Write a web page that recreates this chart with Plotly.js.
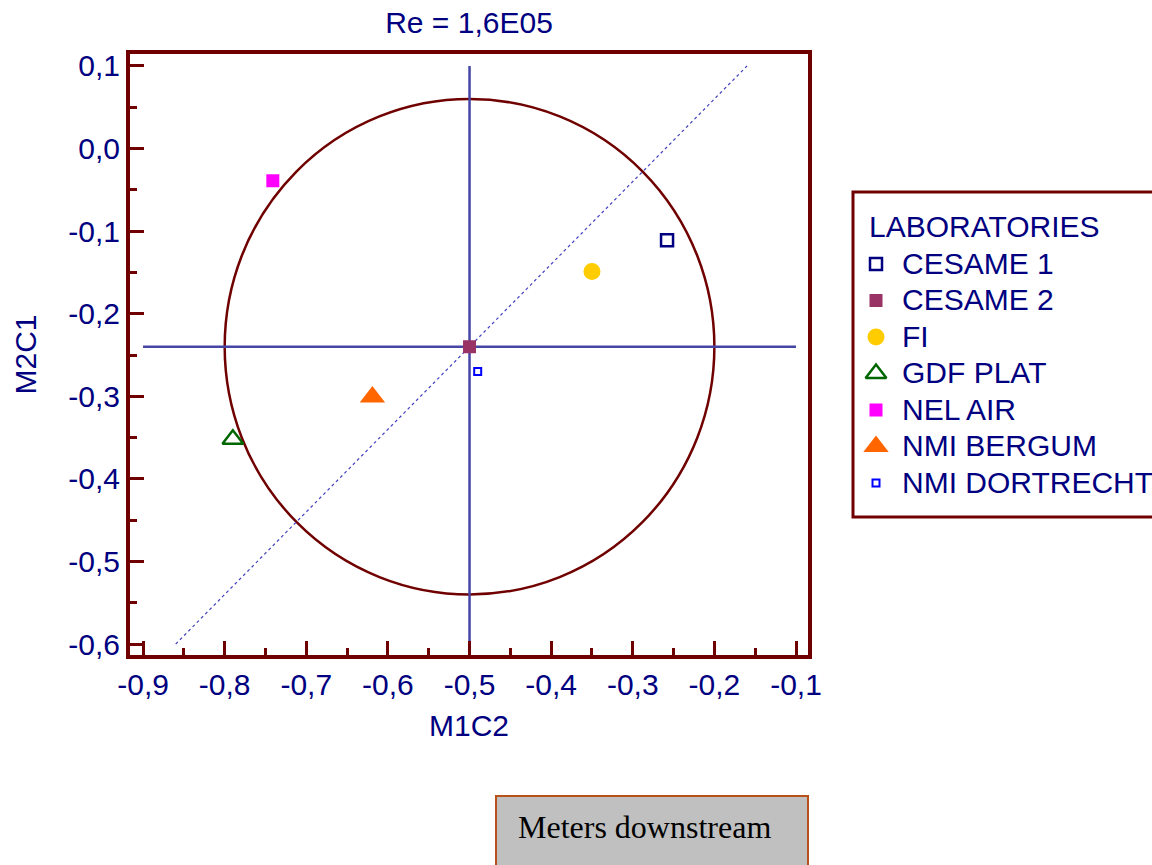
<!DOCTYPE html>
<html>
<head>
<meta charset="utf-8">
<script src="https://cdn.plot.ly/plotly-3.0.1.min.js"></script>
<style>html,body{margin:0;padding:0;background:#fff;}#chart{width:1152px;height:865px;}</style>
</head>
<body>
<div id="chart"></div>
<script>
// Data
const labs = ['CESAME 1', 'CESAME 2', 'FI', 'GDF PLAT', 'NEL AIR', 'NMI BERGUM', 'NMI DORTRECHT'];
const m1c2 = [-0.258, -0.500, -0.350, -0.790, -0.741, -0.619, -0.490];
const m2c1 = [-0.111, -0.240, -0.149, -0.352, -0.039, -0.301, -0.270];

const xTickVals = [-0.9, -0.8, -0.7, -0.6, -0.5, -0.4, -0.3, -0.2, -0.1];
const xTickText = ['-0,9', '-0,8', '-0,7', '-0,6', '-0,5', '-0,4', '-0,3', '-0,2', '-0,1'];
const yTickVals = [0.1, 0.0, -0.1, -0.2, -0.3, -0.4, -0.5, -0.6];
const yTickText = ['0,1', '0,0', '-0,1', '-0,2', '-0,3', '-0,4', '-0,5', '-0,6'];

// Reference geometry (values)
const centerX = -0.5, centerY = -0.24, radius = 0.3;
const hLineX = [-0.9, -0.1], hLineY = [-0.24, -0.24];
const vLineX = [-0.5, -0.5], vLineY = [-0.6, 0.1];
const diagX = [-0.86, -0.16], diagY = [-0.6, 0.1];

const markerStyles = [
  {symbol: 'square-open', size: 12, color: '#000080', line: {width: 2.5, color: '#000080'}},
  {symbol: 'square', size: 13, color: '#993366'},
  {symbol: 'circle', size: 17, color: '#ffcc00'},
  {symbol: 'triangle-up-open', size: 18, color: '#006600', line: {width: 2.5, color: '#006600'}},
  {symbol: 'square', size: 13, color: '#ff00ff'},
  {symbol: 'triangle-up', size: 22, color: '#ff6600'},
  {symbol: 'square-open', size: 7, color: '#0000ff', line: {width: 2, color: '#0000ff'}}
];

const W = 1152, H = 865;
const navy = '#000080';
const darkRed = '#700000';
const crossCol = '#4545a5';
const fontFam = 'Liberation Sans, Arial, sans-serif';

// plot box in pixels
const pL = 130, pR = 808, pT = 54, pB = 655;
// legend panel (pixel coords used by a hidden helper axis)
const lgL = 840, lgR = W, lgT = 180, lgB = 530;
const boxL = 853, boxT = 192, boxB = 517;
const symX = 876, txtX = 900, titleY = 226, firstY = 263, stepY = 36.5;

const traces = [
  {x: hLineX, y: hLineY, mode: 'lines', line: {color: crossCol, width: 2.5}, showlegend: false, hoverinfo: 'skip'},
  {x: vLineX, y: vLineY, mode: 'lines', line: {color: crossCol, width: 2.5}, showlegend: false, hoverinfo: 'skip'},
  {x: diagX, y: diagY, mode: 'lines', line: {color: '#4040c0', width: 1.2, dash: 'dot'}, showlegend: false, hoverinfo: 'skip'}
];
labs.forEach((name, i) => {
  traces.push({x: [m1c2[i]], y: [m2c1[i]], name: name, mode: 'markers', type: 'scatter', marker: markerStyles[i], showlegend: false});
});
// legend symbols on helper axes
labs.forEach((name, i) => {
  traces.push({x: [symX], y: [firstY + i * stepY + 1], name: name + ' (legend)', mode: 'markers', type: 'scatter',
    xaxis: 'x2', yaxis: 'y2', marker: markerStyles[i], showlegend: false, hoverinfo: 'skip', cliponaxis: false});
});

const annotations = [
  {text: 'Meters downstream', xref: 'paper', yref: 'paper', x: 516 / W, y: 1 - 827 / H, xanchor: 'left', yanchor: 'middle', showarrow: false, font: {family: 'Liberation Serif, Times New Roman, serif', size: 32, color: '#000000'}},
  {text: 'LABORATORIES', xref: 'x2', yref: 'y2', x: 867, y: titleY, xanchor: 'left', yanchor: 'middle', showarrow: false, font: {family: fontFam, size: 30, color: navy}}
];
labs.forEach((name, i) => {
  annotations.push({text: name, xref: 'x2', yref: 'y2', x: txtX, y: firstY + i * stepY, xanchor: 'left', yanchor: 'middle', showarrow: false, font: {family: fontFam, size: 30, color: navy}});
});

const layout = {
  width: W, height: H,
  margin: {l: 0, r: 0, t: 0, b: 0, autoexpand: false},
  paper_bgcolor: '#ffffff', plot_bgcolor: '#ffffff',
  font: {family: fontFam, size: 30, color: navy},
  title: {text: 'Re = 1,6E05', font: {family: fontFam, size: 30, color: navy}, x: (pL + pR) / 2 / W, xref: 'paper', xanchor: 'center', y: 1 - 22 / H, yref: 'container', yanchor: 'middle'},
  xaxis: {
    domain: [pL / W, pR / W], anchor: 'y',
    range: [-0.916, -0.0853], tickvals: xTickVals, ticktext: xTickText,
    showgrid: false, zeroline: false, showline: true, linecolor: darkRed, linewidth: 4, mirror: true,
    ticks: 'inside', ticklen: 14, tickwidth: 3, tickcolor: darkRed,
    minor: {dtick: 0.05, ticks: 'inside', ticklen: 7, tickwidth: 3, tickcolor: darkRed, showgrid: false},
    tickfont: {family: fontFam, size: 30, color: navy},
    title: {text: 'M1C2', font: {family: fontFam, size: 30, color: navy}, standoff: 16}
  },
  yaxis: {
    domain: [1 - pB / H, 1 - pT / H], anchor: 'x',
    range: [-0.6133, 0.1145], tickvals: yTickVals, ticktext: yTickText,
    showgrid: false, zeroline: false, showline: true, linecolor: darkRed, linewidth: 4, mirror: true,
    ticks: 'inside', ticklen: 14, tickwidth: 3, tickcolor: darkRed,
    minor: {dtick: 0.05, ticks: 'inside', ticklen: 7, tickwidth: 3, tickcolor: darkRed, showgrid: false},
    tickfont: {family: fontFam, size: 30, color: navy},
    title: {text: 'M2C1', font: {family: fontFam, size: 30, color: navy}, standoff: 24}
  },
  xaxis2: {domain: [lgL / W, lgR / W], range: [lgL, lgR], anchor: 'y2', visible: false, fixedrange: true},
  yaxis2: {domain: [1 - lgB / H, 1 - lgT / H], range: [lgB, lgT], anchor: 'x2', visible: false, fixedrange: true},
  shapes: [
    {type: 'circle', xref: 'x', yref: 'y', x0: centerX - radius, x1: centerX + radius, y0: centerY - radius, y1: centerY + radius, line: {color: darkRed, width: 2.5}, layer: 'below'},
    {type: 'rect', xref: 'paper', yref: 'paper', x0: 496 / W, x1: 808 / W, y0: 1 - 880 / H, y1: 1 - 796 / H, fillcolor: '#c0c0c0', line: {color: '#b8501a', width: 2}, layer: 'below'},
    {type: 'rect', xref: 'paper', yref: 'paper', x0: boxL / W, x1: 1170 / W, y0: 1 - boxB / H, y1: 1 - boxT / H, fillcolor: 'rgba(0,0,0,0)', line: {color: darkRed, width: 3}}
  ],
  annotations: annotations,
  showlegend: false
};

Plotly.newPlot('chart', traces, layout, {displayModeBar: false, staticPlot: true});
</script>
</body>
</html>
